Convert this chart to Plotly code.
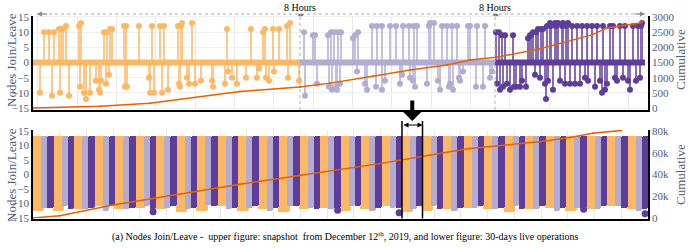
import plotly.graph_objects as go

# ---------------- DATA ----------------
# Upper figure (snapshot): events as (index, join/leave value)
orange_x = [7, 11, 16, 19, 21, 26, 27, 28, 30, 33, 36, 46, 47, 48, 51, 53, 57, 63, 66, 67, 68, 71, 73, 74, 76, 77, 79,
            91, 92, 93, 94, 106, 116, 117, 119, 121, 127, 129, 131, 135, 145, 146, 147, 148, 149, 154, 156, 159, 162,
            168, 179, 180, 192, 194, 195, 199, 204, 213, 218, 224, 226, 230, 232, 233, 236, 240, 241, 246, 254, 255,
            257, 266]
orange_v = [-10, 10, 10, -11, 10, 11, -10, 11, 11, 12, -11, 12, -8, 13, -10, -12, -10, -6, -9, -10, -6, 10, -7, 10,
            -4, 11, 11, 12, -8, 12, -8, 12, -5, -10, 12, -10, 12, -10, 12, -9, 12, -7, -8, 12, 13, -5, -7, 13, -7,
            -6, -6, -8, -7, 11, -3, -5, -7, -5, 11, -5, -2, 10, 11, -5, -6, 11, -3, 11, 12, -5, 13, -6]
light_x = [271, 272, 280, 282, 284, 295, 296, 298, 299, 301, 303, 304, 305, 307, 308, 320, 322, 324, 325, 332, 334,
           339, 343, 344, 349, 349, 352, 357, 363, 367, 369, 370, 376, 377, 380, 381, 382, 384, 394, 396, 397, 401,
           405, 407, 409, 414, 416, 417, 419, 420, 424, 426, 427, 430, 435, 437, 443, 444, 450, 452, 457, 459]
light_v = [10, -11, 9, 9, -7, 9, -8, 10, -9, 10, -8, -9, 10, -7, 10, 8, 9, -3, 10, -7, -9, 12, -8, 12, -9, 12, -6,
           12, 12, -7, -4, 12, 12, -5, -6, 12, -8, 12, -7, 12, 13, 13, -6, -9, 12, 12, -8, -7, 12, -9, 12, -5, -6,
           -3, 12, 12, -8, 12, -8, 12, -5, -3]
dark_x = [463, 464, 466, 467, 469, 470, 472, 474, 477, 480, 481, 483, 487, 489, 493, 495, 497, 498, 500, 502, 503, 505,
          507, 508, 510, 512, 513, 514, 515, 517, 518, 520, 522, 523, 525, 527, 529, 530, 532, 533, 535, 537, 539, 542,
          544, 547, 549, 552, 554, 555, 559, 562, 564, 567, 569, 570, 572, 574, 577, 580, 582, 584, 587, 590, 592,
          595, 597, 600, 603, 605, 607, 608, 609]
dark_v = [10, -7, 10, -9, 9, -8, 9, -7, -9, 9, -8, -8, -8, -6, -8, 8, 9, 9, 10, -4, 10, 11, -5, 11, 11, -7, -12, 12,
          -6, 13, 12, -9, 13, 12, 13, -6, 12, 13, -7, 12, 13, -7, 12, -7, 12, -7, 12, -5, 12, -6, 12, -8, 12, -6,
          -10, 12, -9, -7, 12, 12, -5, -6, 12, -5, 12, -6, -9, 12, -6, 12, -5, 12, 13]
seg_start = [0, 267, 462]
seg_end = [267, 462, 612]

# cumulative (upper)
cum_up_x = [0, 67, 117, 207, 267, 297, 340, 377, 414, 437, 465, 507, 559, 574, 607, 610]
cum_up_y = [0, 60, 160, 540, 690, 820, 1050, 1250, 1420, 1580, 1680, 1950, 2410, 2640, 2800, 2880]

# Lower figure (30 days): per-day extent of each shift
days = list(range(30))
orange_lo = [-12.5, -12.5, -12, -11, -12, -11.5, -12, -13, -12.5, -11, -12.5, -12, -13, -12, -11.5,
             -12.5, -12, -11, -13, -12.5, -12, -11.5, -12, -13, -12, -11.5, -12.5, -12, -11, -12]
light_lo = [-11.5, -11, -12, -12.5, -12, -11, -11.5, -12, -10.5, -12, -11.5, -12.5, -11, -11.5, -12,
            -11, -12.5, -11.5, -12, -11, -12.5, -11.5, -12, -11, -12, -12.5, -11.5, -12, -11, -12.5]
dark_lo = [-11.5, -12, -11.5, -11, -11.5, -12, -11, -11.5, -11, -11.5, -11, -11.5, -11, -12, -11.5,
           -11, -11.5, -11.5, -11, -12, -11.5, -11, -11.5, -12, -11, -11.5, -11.5, -11, -11.5, -12]
band_hi = [13.3] * 30
out_day = [5, 14, 17, 26, 29]
out_val = [-12.8, -12.3, -13.2, -12.0, -13.5]

cum_lo_x = [0, 1.3, 3.9, 7.2, 10.1, 13.0, 16.9, 19.4, 21.3, 24.7, 26.2, 27.3, 28.7]
cum_lo_y = [0, 2000, 12000, 22000, 31000, 39000, 50000, 58000, 64000, 70000, 74000, 78000, 80500]

# ---------------- STYLE ----------------
C_OR = "#fdb863"
C_LP = "#b2abd2"
C_DP = "#5e3c99"
C_LINE = "#e66101"
FONT = "Liberation Serif"
TXT = "#4f5b7a"

fig = go.Figure()


def stems(xs, vs, color, xa, ya):
    sx, sy = [], []
    for x, v in zip(xs, vs):
        sx += [x, x, None]
        sy += [0, v, None]
    fig.add_trace(go.Scatter(x=sx, y=sy, mode="lines", line=dict(color=color, width=2), opacity=0.75,
                             xaxis=xa, yaxis=ya, showlegend=False, hoverinfo="skip"))
    fig.add_trace(go.Scatter(x=xs, y=vs, mode="markers", marker=dict(color=color, size=6),
                             xaxis=xa, yaxis=ya, showlegend=False))


for (xs, vs, col, s, e) in [(orange_x, orange_v, C_OR, seg_start[0], seg_end[0]),
                            (light_x, light_v, C_LP, seg_start[1], seg_end[1]),
                            (dark_x, dark_v, C_DP, seg_start[2], seg_end[2])]:
    stems(xs, vs, col, "x", "y")
    fig.add_trace(go.Scatter(x=[s, e], y=[0, 0], mode="lines", line=dict(color=col, width=6),
                             xaxis="x", yaxis="y", showlegend=False))

fig.add_trace(go.Scatter(x=cum_up_x, y=cum_up_y, mode="lines+markers", line=dict(color=C_LINE, width=1.5),
                         marker=dict(size=2, color=C_LINE), xaxis="x", yaxis="y2", showlegend=False))

# lower bands
for lo, col, off, w in [(orange_lo, C_OR, 0.25, 0.56), (light_lo, C_LP, 0.57, 0.32), (dark_lo, C_DP, 0.86, 0.31)]:
    fig.add_trace(go.Bar(x=[d + off for d in days], y=[h - l for h, l in zip(band_hi, lo)], base=lo,
                         width=w, marker=dict(color=col, line=dict(width=0)), xaxis="x2", yaxis="y3",
                         showlegend=False))
fig.add_trace(go.Scatter(x=[d + 0.86 for d in out_day], y=out_val, mode="markers",
                         marker=dict(color=C_DP, size=7), xaxis="x2", yaxis="y3", showlegend=False))
fig.add_trace(go.Scatter(x=cum_lo_x, y=cum_lo_y, mode="lines+markers", line=dict(color=C_LINE, width=1.5),
                         marker=dict(size=2, color=C_LINE), xaxis="x2", yaxis="y4", showlegend=False))

tickfont = dict(family=FONT, size=11, color=TXT)
up_dom = [1 - 110 / 249, 1 - 15.5 / 249]
lo_dom = [1 - 218.5 / 249, 1 - 130 / 249]
ticks_l = dict(tickvals=[-15, -10, -5, 0, 5, 10, 15], ticktext=["−15", "−10", "−5", "0", "5", "10", "15"])

fig.update_layout(
    width=689, height=249, margin=dict(l=33, r=41, t=0, b=0, autoexpand=False),
    paper_bgcolor="white", plot_bgcolor="white", barmode="overlay", bargap=0,
    barcornerradius=2,
    font=dict(family=FONT),
    xaxis=dict(domain=[0, 1], range=[0, 615], tick0=44, dtick=39.36, showticklabels=False,
               showgrid=True, gridcolor="#e8e8e8", zeroline=False, showline=True, linecolor="black",
               linewidth=1.5, anchor="y", automargin=False),
    yaxis=dict(domain=up_dom, range=[-15.66, 15.49], tickfont=tickfont, automargin=False,
               showgrid=True, gridcolor="#f0f0f0", zeroline=False, showline=True, linecolor="black",
               linewidth=1.5, anchor="x", ticklen=0, **ticks_l),
    yaxis2=dict(range=[-66, 3049], tickvals=[0, 500, 1000, 1500, 2000, 2500, 3000], tickfont=tickfont,
                overlaying="y", side="right", anchor="x", showgrid=False, zeroline=False, showline=True,
                linecolor="black", linewidth=1.5, ticklen=0, automargin=False),
    xaxis2=dict(domain=[0, 1], range=[0, 30], tick0=0, dtick=30 / 23, showticklabels=False,
                showgrid=True, gridcolor="#e8e8e8", zeroline=False, showline=True, linecolor="black",
                linewidth=1.5, anchor="y3", automargin=False),
    yaxis3=dict(domain=lo_dom, range=[-15.17, 15.34], tickfont=tickfont, automargin=False,
                showgrid=True, gridcolor="#f0f0f0", zeroline=False, showline=True, linecolor="black",
                linewidth=1.5, anchor="x2", ticklen=0, **ticks_l),
    yaxis4=dict(range=[-453, 80907], tickvals=[0, 20000, 40000, 60000, 80000],
                ticktext=["0", "20k", "40k", "60k", "80k"], tickfont=tickfont,
                overlaying="y3", side="right", anchor="x2", showgrid=False, zeroline=False, showline=True,
                linecolor="black", linewidth=1.5, ticklen=0, automargin=False),
)

shapes = []
top_y = 1 - 14 / 249
# dotted top line
shapes.append(dict(type="line", xref="x", yref="paper", x0=4, x1=612, y0=top_y, y1=top_y,
                   line=dict(color="#aaaaaa", width=1, dash="dot")))
# vertical dotted separators
for xs in [seg_end[0], seg_end[1]]:
    shapes.append(dict(type="line", xref="x", yref="paper", x0=xs, x1=xs, y0=up_dom[0], y1=top_y,
                       line=dict(color="#b0b0b0", width=1, dash="dot")))
# lower bracket lines
for d in [18, 19]:
    shapes.append(dict(type="line", xref="x2", yref="paper", x0=d, x1=d, y0=lo_dom[0], y1=1 - 121 / 249,
                       line=dict(color="black", width=1.5)))
fig.update_layout(shapes=shapes)

C = dict(xanchor="center", yanchor="middle")
ann = []
for xs in [seg_end[0], seg_end[1]]:
    ann.append(dict(text="8 Hours", xref="x", yref="paper", x=xs, y=1 - 7 / 249, showarrow=False,
                    font=dict(family=FONT, size=10, color="black"), **C))
    ann.append(dict(text="", xref="x", yref="paper", x=xs + 4, y=top_y - 0.004, ax=xs - 4, axref="x",
                    ay=0, ayref="pixel", showarrow=True, arrowside="end+start", arrowhead=2, arrowsize=0.6,
                    arrowwidth=1, arrowcolor="#777777"))
# top line arrowheads
ann.append(dict(text="", xref="x", yref="paper", x=612, y=top_y, ax=600, axref="x", ay=0, ayref="pixel",
                showarrow=True, arrowhead=2, arrowsize=1, arrowwidth=1, arrowcolor="#888888"))
ann.append(dict(text="", xref="x", yref="paper", x=4, y=top_y, ax=16, axref="x", ay=0, ayref="pixel",
                showarrow=True, arrowhead=2, arrowsize=1, arrowwidth=1, arrowcolor="#888888"))
# big down arrow
ann.append(dict(text="", xref="x2", yref="paper", x=18.5, y=1 - 121 / 249, ax=0, ay=-22, showarrow=True,
                arrowhead=1, arrowsize=0.9, arrowwidth=4, arrowcolor="black"))
# horizontal double arrow
ann.append(dict(text="", xref="x2", yref="paper", x=19, y=1 - 125 / 249, ax=18, axref="x2", ay=0,
                ayref="pixel", showarrow=True, arrowside="end+start", arrowhead=2, arrowsize=1,
                arrowwidth=1, arrowcolor="black"))
# axis titles
for yc in [1 - 60 / 249, 1 - 175 / 249]:
    ann.append(dict(text="Nodes Join/Leave", xref="paper", yref="paper", x=(11 - 33) / 615, y=yc,
                    textangle=-90, showarrow=False, font=dict(family=FONT, size=13, color=TXT), **C))
    ann.append(dict(text="Cumulative", xref="paper", yref="paper", x=(680 - 33) / 615, y=yc,
                    textangle=-90, showarrow=False, font=dict(family=FONT, size=13, color=TXT), **C))
ann.append(dict(text="(a) Nodes Join/Leave -  upper figure: snapshot  from December 12<sup>th</sup>, 2019, "
                     "and lower figure: 30-days live operations",
                xref="paper", yref="paper", x=(345 - 33) / 615, y=1 - 236 / 249, showarrow=False,
                font=dict(family=FONT, size=10, color="black"), **C))
fig.update_layout(annotations=ann)

fig.write_html("out.html", config={"displayModeBar": False},
               post_script="document.body.style.margin='0px';")
